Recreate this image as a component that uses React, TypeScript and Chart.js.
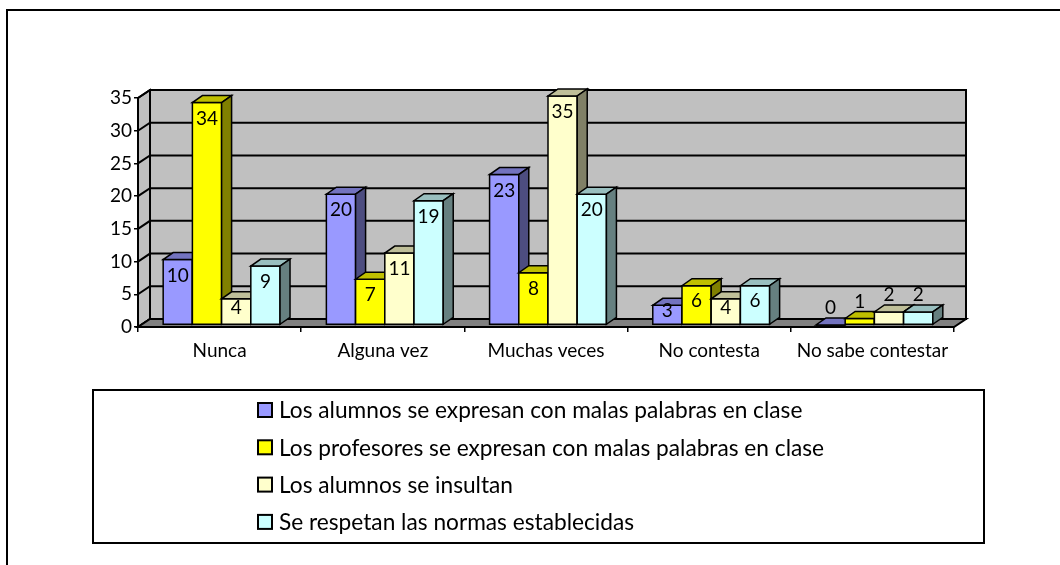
import React, { useEffect, useRef } from 'react';
import { Chart, registerables } from 'chart.js';

Chart.register(...registerables);

const categories = ['Nunca', 'Alguna vez', 'Muchas veces', 'No contesta', 'No sabe contestar'];
const seriesLabels = [
  'Los alumnos se expresan con malas palabras en clase',
  'Los profesores se expresan con malas palabras en clase',
  'Los alumnos se insultan',
  'Se respetan las normas establecidas',
];
const alumnosMalasPalabras = [10, 20, 23, 3, 0];
const profesoresMalasPalabras = [34, 7, 8, 6, 1];
const alumnosInsultan = [4, 11, 35, 4, 2];
const respetanNormas = [9, 19, 20, 6, 2];
const yTicks = [0, 5, 10, 15, 20, 25, 30, 35];

const frontColors = ['#9999FF', '#FFFF00', '#FFFFCC', '#CCFFFF'];
const topColors = ['#7373BF', '#BFBF00', '#BFBF99', '#99BFBF'];
const sideColors = ['#4D4D80', '#808000', '#808066', '#668080'];

const FONT = 'Lato, "Open Sans", sans-serif';
const WALL_DX = 12;
const WALL_DY = -8;
const BAR_DX = 10;
const BAR_DY = -7;
const SHIFT_X = 2;
const SHIFT_Y = -2;

function poly(ctx: CanvasRenderingContext2D, pts: number[][], fill: string | null, stroke = true) {
  ctx.beginPath();
  ctx.moveTo(pts[0][0], pts[0][1]);
  for (let i = 1; i < pts.length; i++) ctx.lineTo(pts[i][0], pts[i][1]);
  ctx.closePath();
  if (fill) {
    ctx.fillStyle = fill;
    ctx.fill();
  }
  if (stroke) ctx.stroke();
}

const threeDPlugin = {
  id: 'threeD',
  beforeDraw(chart: any) {
    const ctx = chart.ctx as CanvasRenderingContext2D;
    ctx.save();
    ctx.strokeStyle = '#000';
    ctx.lineWidth = 2;
    ctx.strokeRect(7, 10, 1200, 700);
    ctx.restore();
  },
  beforeDatasetsDraw(chart: any) {
    const ctx = chart.ctx as CanvasRenderingContext2D;
    const a = chart.chartArea;
    const ys = chart.scales.y;
    const L = a.left;
    const R = a.right;
    const y0 = ys.getPixelForValue(yTicks[0]);
    const yMax = ys.getPixelForValue(yTicks[yTicks.length - 1]);
    ctx.save();
    ctx.lineJoin = 'miter';
    ctx.strokeStyle = '#000';
    ctx.lineWidth = 2;
    // back wall
    ctx.fillStyle = '#C0C0C0';
    ctx.fillRect(L + WALL_DX, yMax + WALL_DY, R - L, y0 - yMax);
    // side wall
    poly(ctx, [[L, y0], [L + WALL_DX, y0 + WALL_DY], [L + WALL_DX, yMax + WALL_DY], [L, yMax]], '#C0C0C0', false);
    // gridlines
    yTicks.forEach((v) => {
      const py = ys.getPixelForValue(v);
      ctx.beginPath();
      ctx.moveTo(L, py);
      ctx.lineTo(L + WALL_DX, py + WALL_DY);
      ctx.lineTo(R + WALL_DX, py + WALL_DY);
      ctx.stroke();
    });
    ctx.strokeRect(L + WALL_DX, yMax + WALL_DY, R - L, y0 - yMax);
    poly(ctx, [[L, y0], [L + WALL_DX, y0 + WALL_DY], [L + WALL_DX, yMax + WALL_DY], [L, yMax]], null, true);
    // floor
    poly(ctx, [[L, y0], [R, y0], [R + WALL_DX, y0 + WALL_DY], [L + WALL_DX, y0 + WALL_DY]], '#808080', true);

    // bars
    ctx.lineWidth = 1.5;
    const labels: { x: number; y: number; text: string }[] = [];
    chart.data.datasets.forEach((ds: any, di: number) => {
      const meta = chart.getDatasetMeta(di);
      meta.data.forEach((el: any, i: number) => {
        const p = el.getProps(['x', 'y', 'base', 'width'], true);
        const l = p.x - p.width / 2 + SHIFT_X;
        const r = p.x + p.width / 2 + SHIFT_X;
        const t = p.y + SHIFT_Y;
        const b = p.base + SHIFT_Y;
        // front
        poly(ctx, [[l, b], [r, b], [r, t], [l, t]], frontColors[di]);
        // top
        poly(ctx, [[l, t], [r, t], [r + BAR_DX, t + BAR_DY], [l + BAR_DX, t + BAR_DY]], topColors[di]);
        // side
        poly(ctx, [[r, b], [r + BAR_DX, b + BAR_DY], [r + BAR_DX, t + BAR_DY], [r, t]], sideColors[di]);
        const h = b - t;
        const cy = h >= 18 ? t + Math.min(16, h / 2 - 4) : t - 17;
        labels.push({ x: (l + r) / 2, y: cy, text: String(ds.data[i]) });
      });
    });
    ctx.fillStyle = '#000';
    ctx.font = `19px ${FONT}`;
    ctx.textAlign = 'center';
    ctx.textBaseline = 'middle';
    labels.forEach((lb) => ctx.fillText(lb.text, lb.x, lb.y));
    ctx.restore();
    return false;
  },
  afterDraw(chart: any) {
    const ctx = chart.ctx as CanvasRenderingContext2D;
    ctx.save();
    ctx.strokeStyle = '#000';
    ctx.lineWidth = 2;
    ctx.strokeRect(93, 390, 891, 153);
    ctx.font = `22.7px ${FONT}`;
    ctx.textAlign = 'left';
    ctx.textBaseline = 'middle';
    chart.data.datasets.forEach((ds: any, di: number) => {
      const cy = 410 + di * 37.3;
      ctx.fillStyle = ds.backgroundColor;
      ctx.fillRect(258, cy - 7, 14, 14);
      ctx.strokeRect(258, cy - 7, 14, 14);
      ctx.fillStyle = '#000';
      ctx.fillText(ds.label, 279, cy + 1);
    });
    ctx.restore();
  },
};

export default function App() {
  const ref = useRef<HTMLCanvasElement>(null);
  useEffect(() => {
    if (!ref.current) return;
    const seriesData = [alumnosMalasPalabras, profesoresMalasPalabras, alumnosInsultan, respetanNormas];
    const chart = new Chart(ref.current, {
      type: 'bar',
      data: {
        labels: categories,
        datasets: seriesData.map((d, i) => ({
          label: seriesLabels[i],
          data: d,
          backgroundColor: frontColors[i],
          borderColor: '#000',
          borderWidth: 1,
          categoryPercentage: 0.716,
          barPercentage: 1,
        })),
      },
      options: {
        responsive: false,
        animation: false,
        devicePixelRatio: 1,
        layout: { padding: { left: 98, right: 106, top: 98, bottom: 198 } },
        plugins: { legend: { display: false }, tooltip: { enabled: false } },
        scales: {
          x: {
            z: 1,
            offset: true,
            afterFit: (s: any) => { s.height = 40; },
            grid: { display: true, drawOnChartArea: false, offset: true, tickLength: 5, color: '#000', lineWidth: 1.5 },
            border: { display: true, color: '#000', width: 2 },
            ticks: { color: '#000', font: { family: FONT, size: 19 }, padding: 7, maxRotation: 0, autoSkip: false },
          },
          y: {
            z: 1,
            min: 0,
            max: 35,
            afterFit: (s: any) => { s.width = 40; },
            grid: { display: true, drawOnChartArea: false, tickLength: 4, color: '#000', lineWidth: 1.5 },
            border: { display: true, color: '#000', width: 2 },
            ticks: { stepSize: 5, color: '#000', font: { family: FONT, size: 19 }, padding: 2 },
          },
        },
      },
      plugins: [threeDPlugin],
    });
    return () => chart.destroy();
  }, []);
  return (
    <div style={{ position: 'absolute', left: 0, top: 0, width: 1060, height: 565, background: '#fff' }}>
      <canvas ref={ref} width={1060} height={565} style={{ display: 'block' }} />
    </div>
  );
}
